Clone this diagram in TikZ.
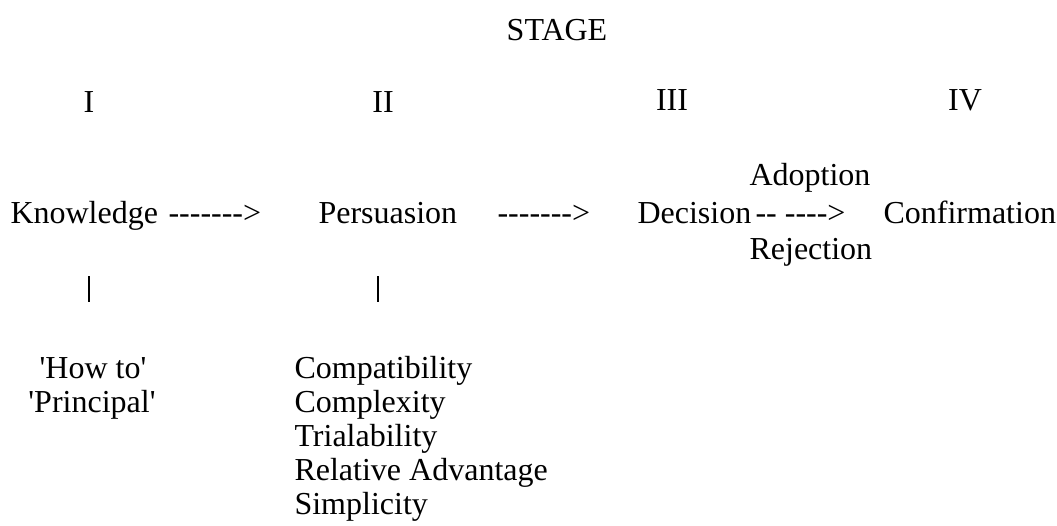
\documentclass[tikz,border=0pt]{standalone}
\usepackage{fontspec}
\setmainfont{Liberation Serif}
\usepackage{tikz}
\usetikzlibrary{positioning}

\newcommand{\longarr}{-{}-{}-{}-{}-{}-{}-\textgreater}
\newcommand{\splitarr}{-{}- -{}-{}-{}-\textgreater}

\begin{document}
\begin{tikzpicture}[
    x=0.375pt, y=-0.375pt,
    every node/.style={inner sep=0pt, font=\fontsize{12}{12.8}\selectfont},
    word/.style={anchor=base west},
    numeral/.style={anchor=base},
    bar/.style={line width=0.6pt}
  ]
  \useasboundingbox (0,0) rectangle (1057,525);

  \node[numeral] (stage) at (557,40) {STAGE};

  \node[numeral] (s1) at (89,112) {I};
  \node[numeral] (s2) at (383,112) {II};
  \node[numeral] (s3) at (672,110) {III};
  \node[numeral] (s4) at (965,110) {IV};

  \node[word] (know) at (10,223) {Knowledge};
  \node[word] (arr1) at (168,223) {\longarr};
  \node[word] (pers) at (318,223) {Persuasion};
  \node[word] (arr2) at (497,223) {\longarr};
  \node[word] (dec) at (637,223) {Decision};
  \node[word] (arr3) at (755,223) {\splitarr};
  \node[word] (conf) at (883,223) {Confirmation};
  \node[word] (adopt) at (749,185) {Adoption};
  \node[word] (rej) at (749,259) {Rejection};

  \coordinate (kt) at (89,276);
  \coordinate (kb) at (89,302);
  \coordinate (pt) at (378,276);
  \coordinate (pb) at (378,302);
  \draw[bar] (kt) -- (kb);
  \draw[bar] (pt) -- (pb);

  \node[numeral] (howto) at (93,378) {\textquotesingle How to\textquotesingle};
  \node[numeral] (princ) at (92,412) {\textquotesingle Principal\textquotesingle};

  \foreach \t [count=\i] in {Compatibility, Complexity, Trialability,
      Relative Advantage, Simplicity}
    \node[word] (attr\i) at (294,344+34*\i) {\t};
\end{tikzpicture}
\end{document}
